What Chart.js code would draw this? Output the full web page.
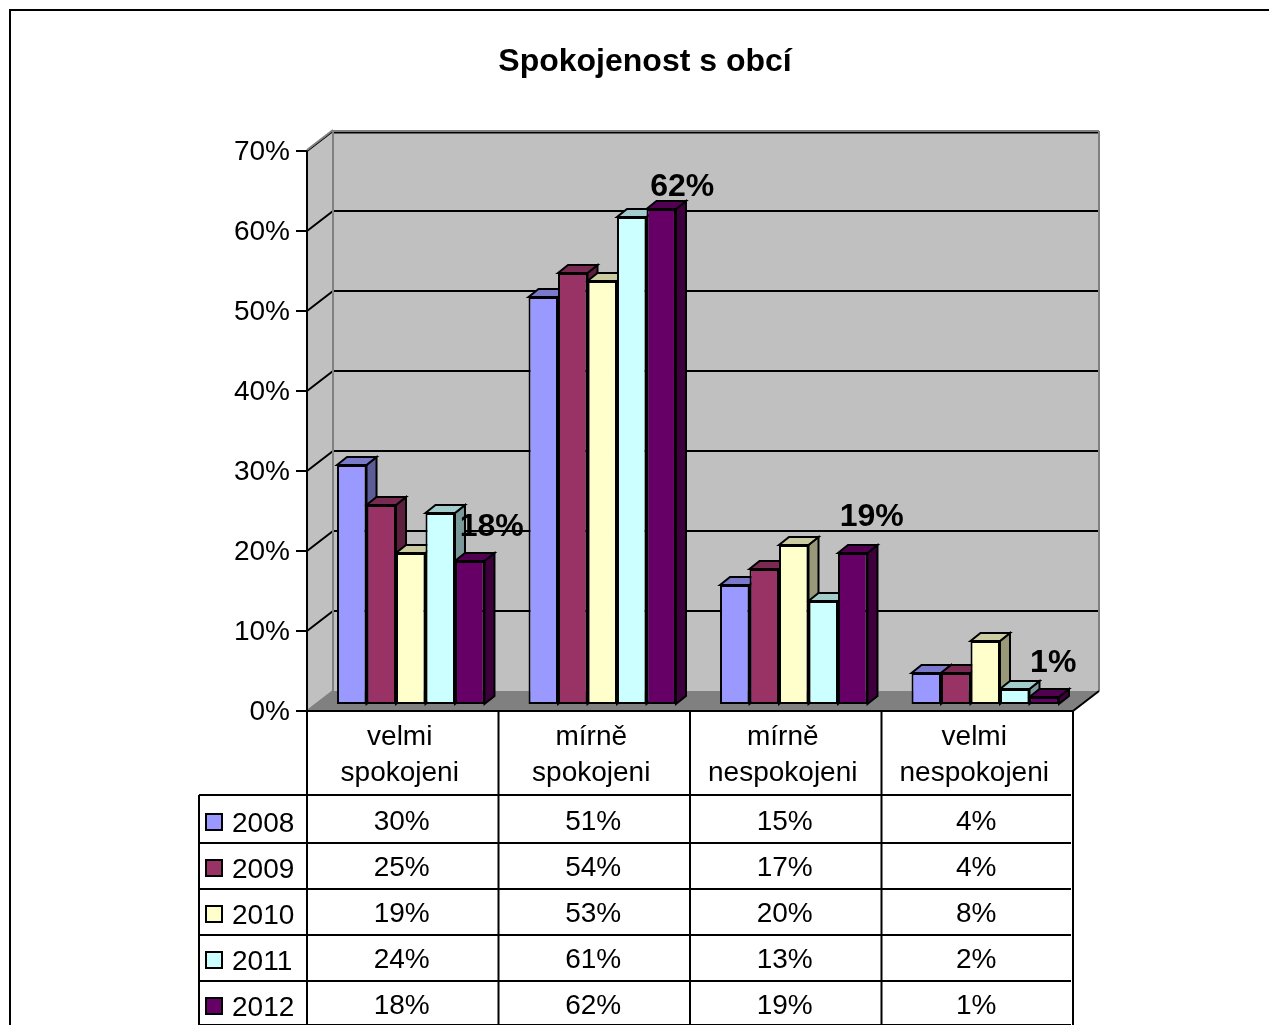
<!DOCTYPE html>
<html><head><meta charset="utf-8">
<style>html,body{margin:0;padding:0;background:#fff;overflow:hidden}canvas{display:block}</style>
<script src="https://cdn.jsdelivr.net/npm/chart.js@4"></script>
</head><body><canvas id="c" width="1269" height="1025"></canvas>
<script>
const categories = [['velmi','spokojeni'],['mírně','spokojeni'],['mírně','nespokojeni'],['velmi','nespokojeni']];
const years = ['2008','2009','2010','2011','2012'];
const v2008 = [30,51,15,4];
const v2009 = [25,54,17,4];
const v2010 = [19,53,20,8];
const v2011 = [24,61,13,2];
const v2012 = [18,62,19,1];
const seriesValues = [v2008,v2009,v2010,v2011,v2012];
const colors = ['#9999FF','#993366','#FFFFCC','#CCFFFF','#660066'];
const topColors = ['#7A7ACC','#7A2952','#CCCCA3','#A3CCCC','#520052'];
const sideColors = ['#5C5C99','#5C1F3D','#99997A','#7A9999','#3D003D'];

const FONT = '"Liberation Sans", Arial, sans-serif';
const WALL = {dx:26, dy:-20}, BAR = {dx:8, dy:-6}, DEPTH = {dx:10, dy:-8};
const labelShift = [[22,-34],[21,-22],[19,-36],[9,-34]];

function poly(ctx, pts, fill, stroke, lw){
  ctx.beginPath();
  pts.forEach((p,i)=> i?ctx.lineTo(p[0],p[1]):ctx.moveTo(p[0],p[1]));
  ctx.closePath();
  if(fill){ctx.fillStyle=fill;ctx.fill();}
  if(stroke){ctx.strokeStyle=stroke;ctx.lineWidth=lw||2;ctx.stroke();}
}
function line(ctx,x1,y1,x2,y2,c,w){
  ctx.beginPath();ctx.moveTo(x1,y1);ctx.lineTo(x2,y2);ctx.strokeStyle=c;ctx.lineWidth=w||2;ctx.stroke();
}

const frame = {
  id:'frame',
  beforeDraw(chart){
    const ctx=chart.ctx;
    ctx.save();
    line(ctx,10,10,1269,10,'#000',2);
    line(ctx,10,9,10,1025,'#000',2);
    ctx.restore();
  },
  beforeDatasetsDraw(chart){
    const ctx=chart.ctx, a=chart.chartArea, y=chart.scales.y;
    const d=WALL;
    ctx.save();
    poly(ctx,[[a.left+d.dx,a.top+d.dy],[a.right+d.dx,a.top+d.dy],[a.right+d.dx,a.bottom+d.dy],[a.left+d.dx,a.bottom+d.dy]],'#C0C0C0');
    poly(ctx,[[a.left,a.top],[a.left+d.dx,a.top+d.dy],[a.left+d.dx,a.bottom+d.dy],[a.left,a.bottom]],'#C0C0C0');
    poly(ctx,[[a.left,a.bottom],[a.left+d.dx,a.bottom+d.dy],[a.right+d.dx,a.bottom+d.dy],[a.right,a.bottom]],'#808080');
    y.ticks.forEach(t=>{
      if(t.value===0) return;
      const py=y.getPixelForValue(t.value);
      line(ctx,a.left,py,a.left+d.dx,py+d.dy,'#000',2);
      line(ctx,a.left+d.dx,py+d.dy+(t.value===70?1.5:0),a.right+d.dx,py+d.dy+(t.value===70?1.5:0),'#000',2);
    });
    line(ctx,a.left+d.dx,a.top+d.dy,a.right+d.dx,a.top+d.dy,'#808080',2);
    line(ctx,a.left,a.top-1,a.left+d.dx,a.top+d.dy-1,'#808080',2);
    line(ctx,a.left+d.dx,a.top+d.dy,a.left+d.dx,a.bottom+d.dy,'#808080',2);
    line(ctx,a.right+d.dx,a.top+d.dy,a.right+d.dx,a.bottom+d.dy,'#808080',2);
    line(ctx,a.left,a.bottom,a.left+d.dx,a.bottom+d.dy,'#808080',2);
    line(ctx,a.right,a.bottom,a.right+d.dx,a.bottom+d.dy,'#000',2);
    line(ctx,a.left,a.top,a.left,a.bottom,'#000',2);
    ctx.restore();

    ctx.save();
    ctx.translate(BAR.dx,BAR.dy);
    chart.data.datasets.forEach((ds,i)=>{
      chart.getDatasetMeta(i).data.forEach(el=>{
        const l=el.x-el.width/2, r=el.x+el.width/2, t=el.y, b=el.base, x=DEPTH.dx, q=DEPTH.dy;
        poly(ctx,[[r,t],[r+x,t+q],[r+x,b+q],[r,b]],sideColors[i],'#000',2);
        poly(ctx,[[l,t],[l+x,t+q],[r+x,t+q],[r,t]],topColors[i],'#000',2);
      });
    });
    ctx.restore();
    ctx.save();
    ctx.translate(BAR.dx,BAR.dy);
  },
  afterDatasetsDraw(chart){
    const ctx=chart.ctx;
    ctx.restore();
    const last=chart.data.datasets.length-1;
    ctx.save();
    ctx.font='bold 32px '+FONT;
    ctx.fillStyle='#000';
    ctx.textAlign='center';
    ctx.textBaseline='middle';
    chart.getDatasetMeta(last).data.forEach((el,i)=>{
      ctx.fillText(seriesValues[last][i]+'%',el.x+BAR.dx+labelShift[i][0],el.y+BAR.dy+labelShift[i][1]);
    });
    ctx.restore();
  },
  afterDraw(chart){
    const ctx=chart.ctx, a=chart.chartArea, x=chart.scales.x;
    const rows=[795,843,889,935,981,1025];
    const legendLeft=199;
    ctx.save();
    line(ctx,a.left-1,a.bottom,a.right,a.bottom,'#000',2);
    const cols=[a.left];
    categories.forEach((c,i)=>cols.push(a.left+(a.right-a.left)*(i+1)/categories.length));
    cols.forEach(cx=>line(ctx,cx,a.bottom,cx,1025,'#000',2));
    rows.forEach(ry=>line(ctx,legendLeft,ry,a.right-2,ry,'#000',2));
    line(ctx,legendLeft,rows[0],legendLeft,1025,'#000',2);
    ctx.font='28px '+FONT;
    ctx.textBaseline='middle';
    years.forEach((yr,i)=>{
      const step=46*i;
      ctx.fillStyle=colors[i];ctx.strokeStyle='#000';ctx.lineWidth=2;
      ctx.fillRect(206,814+step,16,16);ctx.strokeRect(206,814+step,16,16);
      ctx.fillStyle='#000';
      ctx.textAlign='left';
      ctx.fillText(yr,232,824+step);
      ctx.textAlign='center';
      seriesValues[i].forEach((v,j)=>ctx.fillText(v+'%',x.getPixelForValue(j)-1,822+step));
    });
    ctx.restore();
  }
};

new Chart(document.getElementById('c'),{
  type:'bar',
  data:{
    labels:categories,
    datasets:years.map((y,i)=>({
      label:y,data:seriesValues[i],backgroundColor:colors[i],borderColor:'#000',borderWidth:2,borderSkipped:false,
      barPercentage:1,categoryPercentage:0.77,clip:false
    }))
  },
  plugins:[frame],
  options:{
    responsive:false,animation:false,
    layout:{padding:{left:217,right:196,top:0,bottom:0}},
    plugins:{
      legend:{display:false},tooltip:{enabled:false},
      title:{display:true,text:'Spokojenost s obcí',color:'#000',font:{family:FONT,size:32,weight:'bold'},padding:{top:42.8,bottom:69.8}}
    },
    scales:{
      x:{
        afterFit:s=>{s.height=314;},
        grid:{display:false,drawTicks:false},border:{display:false},
        ticks:{autoSkip:false,maxRotation:0,minRotation:0,color:'#000',padding:8,labelOffset:-3,font:{family:FONT,size:28,lineHeight:36/28}}
      },
      y:{
        min:0,max:70,
        afterFit:s=>{s.width=90;},
        grid:{drawOnChartArea:false,drawTicks:true,tickLength:11,color:'#000',lineWidth:2},border:{display:false},
        ticks:{stepSize:10,color:'#000',padding:6,labelOffset:1,font:{family:FONT,size:28},callback:v=>v+'%'}
      }
    }
  }
});
</script></body></html>
